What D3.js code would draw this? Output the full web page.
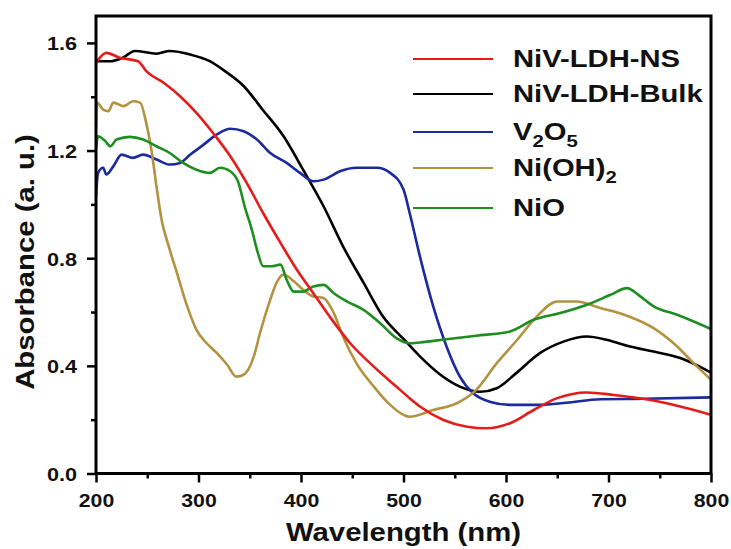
<!DOCTYPE html>
<html>
<head>
<meta charset="utf-8">
<script src="https://cdn.jsdelivr.net/npm/d3@7"></script>
<style>
  body { margin: 0; background: #fff; }
  svg text { font-family: "Liberation Sans", Arial, sans-serif; font-weight: bold; fill: #111; }
</style>
</head>
<body>
<script>
// series: wavelength (nm) and absorbance (a. u.)
var nsWl   = [200,210,223,241,249,266,282,298,314,331,347,363,380,396,412,428,448,471,493,506,516,539,562,581,604,627,650,679,705,741,770,800];
var nsAbs  = [1.526,1.563,1.545,1.532,1.495,1.452,1.402,1.34,1.266,1.179,1.08,0.968,0.857,0.757,0.67,0.583,0.484,0.397,0.323,0.28,0.249,0.199,0.174,0.168,0.187,0.236,0.28,0.301,0.292,0.273,0.249,0.218];

var bulkWl  = [200,214,226,238,259,272,292,311,324,344,363,383,402,422,441,461,480,500,516,536,555,575,591,610,633,656,679,698,721,744,770,800];
var bulkAbs = [1.532,1.532,1.545,1.57,1.56,1.57,1.557,1.532,1.5,1.44,1.35,1.253,1.129,0.993,0.844,0.709,0.583,0.5,0.435,0.367,0.323,0.304,0.317,0.373,0.447,0.49,0.509,0.497,0.472,0.453,0.429,0.375];

var vWl  = [200,202,207,210,217,225,236,246,259,272,282,292,305,318,331,344,357,370,386,399,412,422,438,454,474,487,500,506,516,529,542,555,568,584,604,633,659,692,724,800];
var vAbs = [1.03,1.117,1.136,1.111,1.142,1.185,1.173,1.185,1.167,1.148,1.154,1.185,1.222,1.26,1.281,1.272,1.241,1.191,1.154,1.117,1.086,1.092,1.123,1.136,1.136,1.117,1.055,0.968,0.807,0.621,0.472,0.36,0.298,0.267,0.255,0.255,0.263,0.276,0.277,0.283];

var ohWl  = [200,201,207,212,217,227,236,243,249,254,259,264,271,279,289,298,308,318,328,337,344,354,360,370,376,383,393,402,412,422,432,441,454,471,487,500,506,529,552,571,591,611,630,650,669,692,718,744,767,783,800];
var ohAbs = [1.29,1.378,1.352,1.346,1.378,1.365,1.383,1.378,1.303,1.204,1.067,0.943,0.844,0.745,0.621,0.534,0.484,0.447,0.404,0.36,0.367,0.435,0.522,0.646,0.708,0.739,0.714,0.683,0.658,0.652,0.596,0.509,0.41,0.323,0.255,0.218,0.211,0.236,0.261,0.311,0.41,0.497,0.583,0.639,0.639,0.615,0.586,0.54,0.472,0.41,0.348];

var nioWl  = [200,202,209,214,220,233,246,259,272,285,298,311,321,331,339,345,352,358,363,371,380,386,393,402,412,422,432,445,461,477,493,506,516,542,571,604,627,653,679,702,718,731,744,767,800];
var nioAbs = [1.204,1.253,1.235,1.216,1.241,1.251,1.241,1.216,1.191,1.154,1.129,1.117,1.136,1.123,1.08,0.993,0.906,0.819,0.77,0.77,0.776,0.72,0.676,0.676,0.695,0.701,0.67,0.639,0.608,0.559,0.503,0.484,0.487,0.499,0.512,0.528,0.571,0.596,0.627,0.664,0.689,0.658,0.621,0.59,0.537];

var seriesNames  = ["NiV-LDH-NS", "NiV-LDH-Bulk", "V2O5", "Ni(OH)2", "NiO"];
var seriesColors = ["#e41c1c", "#000000", "#1b2a9c", "#b39240", "#1f8e21"];
var xTicks = [200, 300, 400, 500, 600, 700, 800];
var yTicks = [0.0, 0.4, 0.8, 1.2, 1.6];

var width = 731, height = 549;
var border = { top: 16, bottom: 75.5, left: 96, right: 20 };
var plotW = width - border.left - border.right,
    plotH = height - border.top - border.bottom;

var svg = d3.select("body").append("svg")
  .attr("width", width)
  .attr("height", height);

var xScale = d3.scaleLinear().domain([200, 800]).range([0, plotW]);
var yScale = d3.scaleLinear().domain([0, 1.7]).range([plotH, 0]);

var g = svg.append("g")
  .attr("transform", "translate(" + border.left + "," + border.top + ")");

// minor ticks first, major ticks with labels on top
var minorX = d3.range(250, 800, 100);
var minorY = [0.2, 0.6, 1.0, 1.4];

g.append("g")
  .attr("transform", "translate(0," + plotH + ")")
  .call(d3.axisBottom(xScale).tickValues(minorX).tickSize(5).tickFormat(""))
  .call(s => s.select(".domain").remove())
  .selectAll("line").attr("stroke-width", 2.5);

g.append("g")
  .call(d3.axisLeft(yScale).tickValues(minorY).tickSize(5).tickFormat(""))
  .call(s => s.select(".domain").remove())
  .selectAll("line").attr("stroke-width", 2.5);

var xAxis = g.append("g")
  .attr("transform", "translate(0," + plotH + ")")
  .call(d3.axisBottom(xScale).tickValues(xTicks).tickSize(9).tickFormat(d3.format("d")));
xAxis.select(".domain").remove();
xAxis.selectAll("line").attr("stroke-width", 2.5);
xAxis.selectAll("text")
  .attr("y", null).attr("dy", null)
  .attr("transform", "translate(0,33) scale(1.15,1)")
  .style("font-size", "18.5px");

var yAxis = g.append("g")
  .call(d3.axisLeft(yScale).tickValues(yTicks).tickSize(9).tickFormat(d3.format(".1f")));
yAxis.select(".domain").remove();
yAxis.selectAll("line").attr("stroke-width", 2.5);
yAxis.selectAll("text")
  .attr("x", null).attr("dy", null)
  .attr("text-anchor", "end")
  .attr("transform", "translate(-19,7) scale(1.17,1)")
  .style("font-size", "18.5px");

// curves
var lineGen = d3.line()
  .x(d => xScale(d[0]))
  .y(d => yScale(d[1]))
  .curve(d3.curveMonotoneX);

var series = [
  d3.zip(nsWl, nsAbs),
  d3.zip(bulkWl, bulkAbs),
  d3.zip(vWl, vAbs),
  d3.zip(ohWl, ohAbs),
  d3.zip(nioWl, nioAbs)
];

// drawing order so the red line sits on top
var order = [1, 2, 3, 4, 0];
order.forEach(function (i) {
  g.append("path")
    .attr("d", lineGen(series[i]))
    .attr("fill", "none")
    .attr("stroke", seriesColors[i])
    .attr("stroke-width", 2.6)
    .attr("stroke-linejoin", "round");
});

// frame
g.append("rect")
  .attr("x", 0).attr("y", 0)
  .attr("width", plotW).attr("height", plotH)
  .attr("fill", "none")
  .attr("stroke", "#000")
  .attr("stroke-width", 3);

// axis titles
svg.append("text")
  .attr("text-anchor", "middle")
  .attr("transform", "translate(" + (border.left + plotW / 2) + ",541) scale(1.15,1)")
  .style("font-size", "25.5px")
  .text("Wavelength (nm)");

svg.append("text")
  .attr("text-anchor", "middle")
  .attr("transform", "translate(34,262) rotate(-90) scale(1.15,1)")
  .style("font-size", "25.5px")
  .text("Absorbance (a. u.)");

// legend
var legendY = [59, 94, 132, 168, 208];
var legend = svg.append("g");
seriesNames.forEach(function (name, i) {
  legend.append("line")
    .attr("x1", 413).attr("x2", 493)
    .attr("y1", legendY[i]).attr("y2", legendY[i])
    .attr("stroke", seriesColors[i])
    .attr("stroke-width", 2);

  var t = legend.append("text")
    .attr("transform", "translate(513," + (legendY[i] + 8) + ") scale(1.27,1)")
    .style("font-size", "23px");

  if (name === "V2O5") {
    t.append("tspan").text("V");
    t.append("tspan").attr("dy", 7).style("font-size", "16px").text("2");
    t.append("tspan").attr("dy", -7).text("O");
    t.append("tspan").attr("dy", 7).style("font-size", "16px").text("5");
  } else if (name === "Ni(OH)2") {
    t.append("tspan").text("Ni(OH)");
    t.append("tspan").attr("dy", 7).style("font-size", "16px").text("2");
  } else {
    t.text(name);
  }
});
</script>
</body>
</html>
